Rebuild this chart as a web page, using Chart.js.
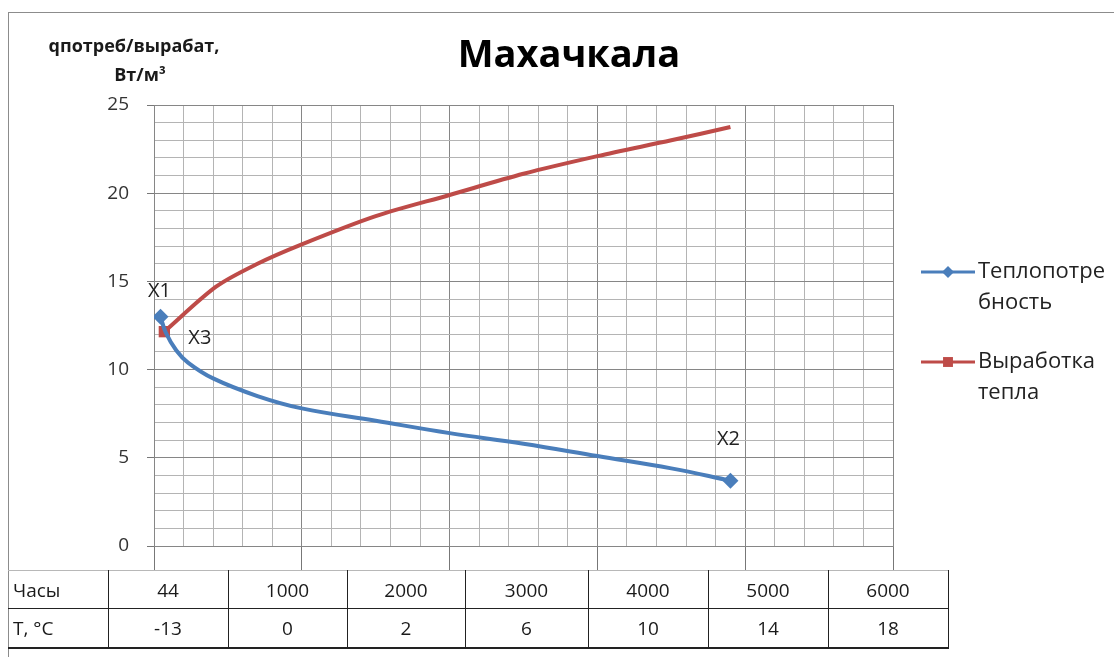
<!DOCTYPE html>
<html lang="ru">
<head>
<meta charset="utf-8">
<title>Махачкала</title>
<script src="https://cdn.jsdelivr.net/npm/chart.js@4.4.1/dist/chart.umd.min.js"></script>
<style>
  html, body { margin: 0; padding: 0; background: #fff; }
  #wrap { position: relative; width: 1114px; height: 657px; overflow: hidden; font-family: "Open Sans", sans-serif; }
  #frame { position: absolute; left: 8px; top: 12px; width: 1200px; height: 700px;
           border-left: 1px solid #8c8c8c; border-top: 1px solid #8c8c8c; }
  #chart { position: absolute; left: 0; top: 0; }
  #table { position: absolute; left: 8px; top: 570px; border-collapse: collapse;
           table-layout: fixed; font-size: 19px; color: #1a1a1a; }
  #table td { border: 1px solid #222; text-align: center; padding: 0; line-height: 20px; }
  #table tr.hours td { border-top: 1px solid #b8b8b8; height: 37px; }
  #table tr.temp td { border-bottom: 2px solid #222; height: 38px; }
  #table td:first-child { border-left: none; text-align: left; padding-left: 5px; }
</style>
</head>
<body>
<div id="wrap">
  <div id="frame"></div>
  <canvas id="chart" width="1114" height="657"></canvas>
  <table id="table"></table>
</div>
<script>
const chartTitle = 'Махачкала';
const axisTitle = ['qпотреб/вырабат,', 'Вт/м³'];
const seriesNames = ['Теплопотребность', 'Выработка тепла'];
const legendLines = [['Теплопотре', 'бность'], ['Выработка', 'тепла']];

// теплопотребление, часы стояния температуры -> Вт/м3
const demandHours = [44, 80, 150, 230, 400, 700, 1000, 1500, 2000, 2500, 3000, 3500, 3900];
const demandValues = [13.0, 12.1, 11.1, 10.4, 9.5, 8.5, 7.8, 7.1, 6.4, 5.8, 5.1, 4.4, 3.7];

// выработка тепла
const outputHours = [70, 420, 700, 1000, 1500, 2000, 2500, 3000, 3500, 3900];
const outputValues = [12.15, 14.7, 16.0, 17.1, 18.7, 19.9, 21.1, 22.1, 23.0, 23.75];

const pointTags = ['X1', 'X2', 'X3'];

// таблица под графиком
const rowHeads = ['Часы', 'T, °C'];
const hoursRow = ['44', '1000', '2000', '3000', '4000', '5000', '6000'];
const tempRow = ['-13', '0', '2', '6', '10', '14', '18'];

const BLUE = '#4a7ebb';
const RED = '#be4b48';

function toPoints(xs, ys) {
  return xs.map((x, i) => ({ x: x, y: ys[i] }));
}

// заполняем таблицу
const colWidths = [100, 120, 119, 118, 123, 120, 120, 120];
const table = document.getElementById('table');
const colgroup = document.createElement('colgroup');
colWidths.forEach(w => {
  const col = document.createElement('col');
  col.style.width = w + 'px';
  colgroup.appendChild(col);
});
table.appendChild(colgroup);
[hoursRow, tempRow].forEach((row, r) => {
  const tr = document.createElement('tr');
  tr.className = r === 0 ? 'hours' : 'temp';
  [rowHeads[r]].concat(row).forEach(text => {
    const td = document.createElement('td');
    td.textContent = text;
    tr.appendChild(td);
  });
  table.appendChild(tr);
});

const annotations = {
  id: 'annotations',
  afterDraw(chart) {
    const ctx = chart.ctx;
    ctx.save();
    ctx.fillStyle = '#000';
    ctx.textAlign = 'center';
    ctx.textBaseline = 'middle';

    ctx.font = 'bold 38px "Open Sans"';
    ctx.fillText(chartTitle, 569, 56);

    ctx.font = 'bold 18px "Open Sans"';
    ctx.fillStyle = '#1a1a1a';
    ctx.fillText(axisTitle[0], 134, 47);
    ctx.fillText(axisTitle[1], 140, 76);

    // легенда справа
    ctx.font = '22px "Open Sans"';
    ctx.textAlign = 'left';
    chart.data.datasets.forEach((ds, i) => {
      const y = 272 + i * 90;
      ctx.strokeStyle = ds.borderColor;
      ctx.lineWidth = 3;
      ctx.beginPath();
      ctx.moveTo(921, y);
      ctx.lineTo(975, y);
      ctx.stroke();
      ctx.fillStyle = ds.borderColor;
      Chart.helpers.drawPoint(ctx, {
        pointStyle: ds.pointStyle,
        radius: ds.pointStyle === 'rect' ? 7 : 6,
        borderWidth: 0,
        rotation: 0
      }, 948, y);
      ctx.fillStyle = '#222';
      legendLines[i].forEach((line, k) => {
        ctx.fillText(line, 978, y + k * 31);
      });
    });

    // подписи точек
    const blue = chart.getDatasetMeta(0).data;
    const red = chart.getDatasetMeta(1).data;
    ctx.font = '20px "Open Sans"';
    ctx.fillStyle = '#222';
    ctx.textAlign = 'center';
    ctx.fillText(pointTags[0], blue[0].x - 1, blue[0].y - 25);
    ctx.fillText(pointTags[1], blue[blue.length - 1].x - 2, blue[blue.length - 1].y - 41);
    ctx.textAlign = 'left';
    ctx.fillText(pointTags[2], red[0].x + 24, red[0].y + 7);
    ctx.restore();
  }
};

const edgeRadius = (size) => (c) => {
  const n = c.dataset.data.length;
  return c.dataIndex === 0 || (c.datasetIndex === 0 && c.dataIndex === n - 1) ? size : 0;
};

new Chart(document.getElementById('chart'), {
  type: 'line',
  data: {
    datasets: [
      {
        label: seriesNames[0],
        data: toPoints(demandHours, demandValues),
        borderColor: BLUE,
        backgroundColor: BLUE,
        borderWidth: 4,
        tension: 0.4,
        pointStyle: 'rectRot',
        pointRadius: edgeRadius(8),
        pointBorderWidth: 0
      },
      {
        label: seriesNames[1],
        data: toPoints(outputHours, outputValues),
        borderColor: RED,
        backgroundColor: RED,
        borderWidth: 4,
        tension: 0.3,
        pointStyle: 'rect',
        pointRadius: edgeRadius(8),
        pointBorderWidth: 0
      }
    ]
  },
  options: {
    responsive: false,
    animation: false,
    layout: { padding: { left: 0, top: 105, right: 221, bottom: 0 } },
    plugins: {
      legend: { display: false },
      tooltip: { enabled: false }
    },
    scales: {
      x: {
        type: 'linear',
        min: 0,
        max: 5000,
        afterFit: (scale) => { scale.height = 111; },
        ticks: { display: false, stepSize: 200 },
        grid: {
          color: (c) => c.tick.value % 1000 === 0 ? '#868686' : '#b4b4b4',
          tickColor: (c) => c.tick.value % 1000 === 0 ? '#777' : 'rgba(0,0,0,0)',
          tickLength: 24,
          lineWidth: 1
        },
        border: { color: '#868686', width: 1 }
      },
      y: {
        min: 0,
        max: 25,
        afterFit: (scale) => { scale.width = 154; },
        ticks: {
          stepSize: 1,
          autoSkip: false,
          padding: 18,
          color: '#333',
          font: { family: 'Open Sans', size: 19 },
          callback: (v) => v % 5 === 0 ? v : ''
        },
        grid: {
          color: (c) => c.tick.value % 5 === 0 ? '#868686' : '#b4b4b4',
          tickColor: (c) => c.tick.value % 5 === 0 ? '#777' : 'rgba(0,0,0,0)',
          tickLength: 7,
          lineWidth: 1
        },
        border: { color: '#868686', width: 1 }
      }
    }
  },
  plugins: [annotations]
});
</script>
</body>
</html>
